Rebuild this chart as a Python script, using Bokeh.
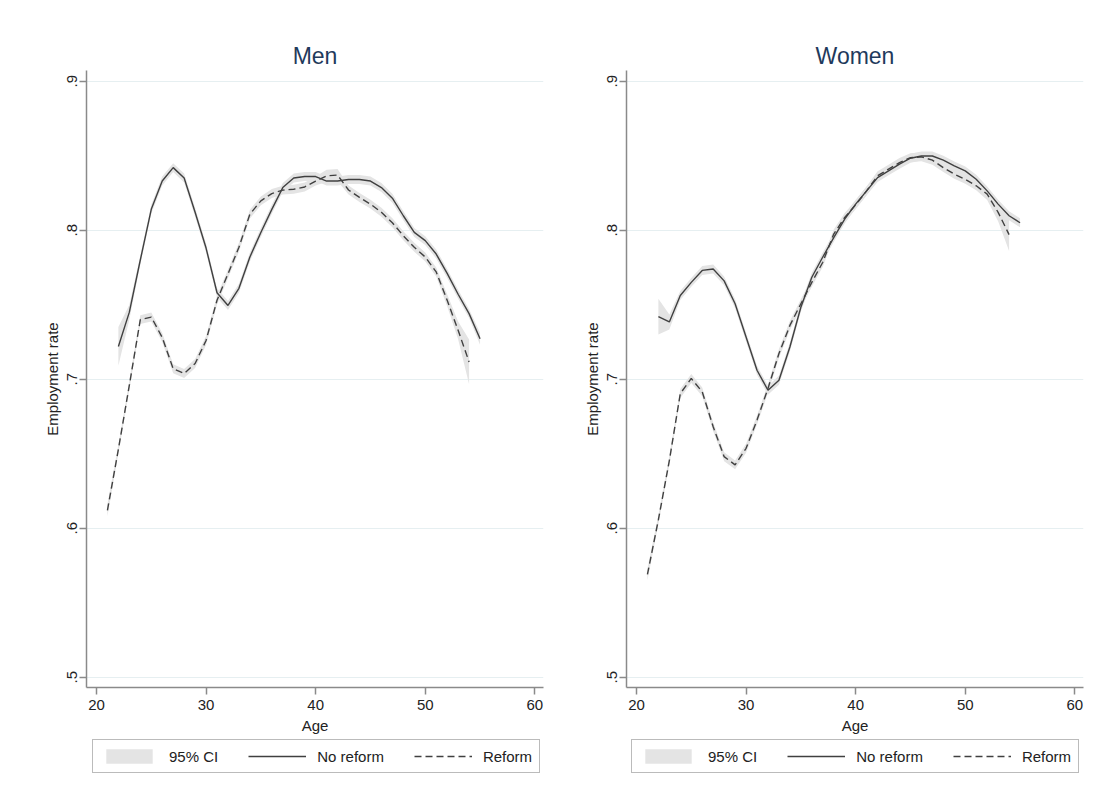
from bokeh.plotting import figure
from bokeh.models import Range1d, FixedTicker, Legend, LegendItem, CustomJSTickFormatter
from bokeh.layouts import row, column
from bokeh.embed import file_html
from bokeh.resources import INLINE

FONT = "Liberation Sans"

# ---------------- data ----------------
y_ticks = [0.5, 0.6, 0.7, 0.8, 0.9]
x_ticks = [20, 30, 40, 50, 60]
legend_labels = ["95% CI", "No reform", "Reform"]

men_age_nr = list(range(22, 56))
men_nr = [0.722, 0.745, 0.780, 0.814, 0.833, 0.842, 0.835, 0.812, 0.788, 0.758,
          0.7495, 0.761, 0.782, 0.7985, 0.814, 0.8286, 0.835, 0.836, 0.836, 0.833,
          0.833, 0.834, 0.834, 0.833, 0.8286, 0.8215, 0.8097, 0.7985, 0.793, 0.784,
          0.771, 0.757, 0.744, 0.7272]
men_nr_hw = [0.013, 0.005, 0.003, 0.003, 0.003, 0.003, 0.003, 0.003, 0.003, 0.003,
             0.003, 0.003, 0.003, 0.003, 0.003, 0.003, 0.003, 0.003, 0.003, 0.003,
             0.003, 0.003, 0.003, 0.003, 0.003, 0.003, 0.003, 0.003, 0.003, 0.003,
             0.003, 0.003, 0.003, 0.004]

men_age_r = list(range(21, 55))
men_r = [0.612, 0.653, 0.696, 0.740, 0.7417, 0.728, 0.707, 0.7038, 0.7105, 0.726,
         0.753, 0.7707, 0.7885, 0.8108, 0.8197, 0.8246, 0.8269, 0.8275, 0.829, 0.833,
         0.8365, 0.837, 0.827, 0.822, 0.8175, 0.812, 0.805, 0.7963, 0.7885, 0.782,
         0.772, 0.753, 0.7328, 0.7116]
men_r_hw = [0.004, 0.003, 0.003, 0.003, 0.003, 0.003, 0.003, 0.003, 0.003, 0.003,
            0.003, 0.003, 0.003, 0.003, 0.003, 0.003, 0.003, 0.003, 0.003, 0.003,
            0.004, 0.004, 0.003, 0.003, 0.003, 0.003, 0.003, 0.003, 0.003, 0.003,
            0.003, 0.004, 0.006, 0.015]

women_age_nr = list(range(22, 56))
women_nr = [0.742, 0.7384, 0.7562, 0.765, 0.773, 0.774, 0.766, 0.7506, 0.7283, 0.706,
            0.6926, 0.6993, 0.7216, 0.7483, 0.7684, 0.782, 0.795, 0.8075, 0.8175, 0.8264,
            0.8353, 0.8398, 0.8443, 0.8483, 0.8498, 0.8498, 0.847, 0.8431, 0.8398, 0.8342,
            0.8264, 0.8175, 0.8097, 0.805]
women_nr_hw = [0.012, 0.005, 0.003, 0.003, 0.003, 0.003, 0.003, 0.003, 0.003, 0.003,
               0.003, 0.003, 0.003, 0.003, 0.003, 0.003, 0.003, 0.003, 0.003, 0.003,
               0.003, 0.003, 0.003, 0.003, 0.003, 0.003, 0.003, 0.003, 0.003, 0.003,
               0.003, 0.003, 0.003, 0.003]

women_age_r = list(range(21, 55))
women_r = [0.569, 0.6057, 0.6454, 0.6904, 0.7005, 0.6915, 0.6681, 0.648, 0.6425, 0.6536,
           0.6726, 0.6938, 0.7172, 0.7361, 0.7506, 0.765, 0.7785, 0.7974, 0.8086, 0.817,
           0.8264, 0.8365, 0.841, 0.8454, 0.8487, 0.8492, 0.847, 0.842, 0.8376, 0.8342,
           0.8298, 0.8242, 0.812, 0.797]
women_r_hw = [0.004, 0.003, 0.003, 0.003, 0.003, 0.003, 0.003, 0.003, 0.003, 0.003,
              0.003, 0.003, 0.003, 0.003, 0.003, 0.003, 0.003, 0.003, 0.003, 0.003,
              0.003, 0.003, 0.003, 0.003, 0.003, 0.003, 0.003, 0.003, 0.003, 0.003,
              0.003, 0.004, 0.006, 0.011]

# ---------------- styling ----------------
AXIS_COL = "#8a8a8a"
LINE_COL = "#404040"
CI_COL = "#e4e4e4"
GRID_COL = "#e6eff1"
TEXT_COL = "#222222"
TITLE_COL = "#1f3a5c"
DASH = "7 4"


def panel(title, a_nr, nr, nr_hw, a_r, r, r_hw, border_left, border_right):
    p = figure(frame_width=457, frame_height=617,
               x_range=Range1d(19.09, 60.79), y_range=Range1d(0.49309, 0.90718),
               output_backend="svg", toolbar_location=None,
               min_border_left=border_left, min_border_right=border_right,
               min_border_top=70, min_border_bottom=50)
    p.outline_line_color = None
    p.background_fill_color = "white"
    p.border_fill_color = "white"

    p.title.text = title
    p.title.align = "center"
    p.title.text_font = FONT
    p.title.text_font_size = "23px"
    p.title.text_font_style = "normal"
    p.title.text_color = TITLE_COL
    p.title.standoff = 4

    lo_nr = [v - h for v, h in zip(nr, nr_hw)]
    hi_nr = [v + h for v, h in zip(nr, nr_hw)]
    lo_r = [v - h for v, h in zip(r, r_hw)]
    hi_r = [v + h for v, h in zip(r, r_hw)]

    p.varea(x=a_nr, y1=lo_nr, y2=hi_nr, fill_color=CI_COL, fill_alpha=1.0)
    p.varea(x=a_r, y1=lo_r, y2=hi_r, fill_color=CI_COL, fill_alpha=1.0)
    p.line(a_nr, nr, line_color=LINE_COL, line_width=1.4)
    p.line(a_r, r, line_color=LINE_COL, line_width=1.4, line_dash=DASH)

    p.xgrid.visible = False
    p.ygrid.ticker = FixedTicker(ticks=y_ticks)
    p.ygrid.grid_line_color = GRID_COL
    p.ygrid.grid_line_width = 1

    fmt = CustomJSTickFormatter(code="return tick.toFixed(1).replace(/^0/, '');")
    p.yaxis.ticker = FixedTicker(ticks=y_ticks)
    p.yaxis.formatter = fmt
    p.yaxis.major_label_orientation = "vertical"
    p.yaxis.axis_label = "Employment rate"
    p.xaxis.ticker = FixedTicker(ticks=x_ticks)
    p.xaxis.axis_label = "Age"

    for ax in (p.xaxis, p.yaxis):
        ax.axis_line_color = AXIS_COL
        ax.axis_line_width = 1.5
        ax.major_tick_line_color = AXIS_COL
        ax.major_tick_line_width = 1.5
        ax.major_tick_out = 7
        ax.major_tick_in = 0
        ax.minor_tick_line_color = None
        ax.major_label_text_font = FONT
        ax.major_label_text_font_size = "15px"
        ax.major_label_text_color = TEXT_COL
        ax.axis_label_text_font = FONT
        ax.axis_label_text_font_size = "15px"
        ax.axis_label_text_font_style = "normal"
        ax.axis_label_text_color = TEXT_COL
    p.xaxis.major_label_standoff = 5
    p.xaxis.axis_label_standoff = 4
    p.yaxis.major_label_standoff = 2
    p.yaxis.axis_label_standoff = 4
    return p


def legend_fig(width, box_x):
    q = figure(width=width, height=60, x_range=Range1d(0, 1), y_range=Range1d(0, 1),
               output_backend="svg", toolbar_location=None,
               x_axis_location=None, y_axis_location=None,
               min_border_left=0, min_border_right=0,
               min_border_top=0, min_border_bottom=0)
    q.outline_line_color = None
    q.grid.visible = False
    q.background_fill_color = "white"
    q.border_fill_color = "white"
    # proxy renderers lying outside the visible range, only used for legend glyphs
    ci = q.varea(x=[5, 6], y1=[5, 5], y2=[6, 6], fill_color=CI_COL, fill_alpha=1.0)
    ln = q.line(x=[5, 6], y=[5, 6], line_color=LINE_COL, line_width=1.4)
    dl = q.line(x=[5, 6], y=[5, 6], line_color=LINE_COL, line_width=1.4, line_dash=DASH)
    leg = Legend(items=[LegendItem(label=legend_labels[0], renderers=[ci]),
                        LegendItem(label=legend_labels[1], renderers=[ln]),
                        LegendItem(label=legend_labels[2], renderers=[dl])],
                 orientation="horizontal", location=(box_x, 24),
                 glyph_width=58, glyph_height=18, label_standoff=11,
                 spacing=30, padding=7,
                 border_line_color="#777777", border_line_width=1.5,
                 background_fill_color="white", background_fill_alpha=1.0,
                 label_text_font=FONT, label_text_font_size="15px",
                 label_text_color=TEXT_COL)
    q.add_layout(leg, "center")
    return q


p1 = panel("Men", men_age_nr, men_nr, men_nr_hw, men_age_r, men_r, men_r_hw, 86, 5)
p2 = panel("Women", women_age_nr, women_nr, women_nr_hw, women_age_r, women_r, women_r_hw, 78, 5)
q1 = legend_fig(548, 92)
q2 = legend_fig(540, 83)

layout = column(row(p1, p2), row(q1, q2))
open("out.html", "w").write(file_html(layout, INLINE))
